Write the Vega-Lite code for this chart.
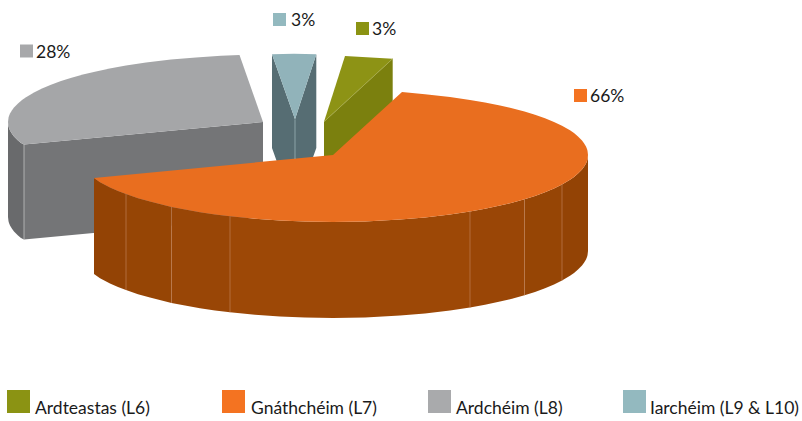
{
"$schema":"https://vega.github.io/schema/vega-lite/v6.json",
"width":802,"height":421,
"autosize":{"type":"fit","contains":"padding"},
"padding":0,
"background":"white",
"config":{"view":{"stroke":null}},
"datasets":{
"levels":[
{"rank":1,"level":"Ardteastas (L6)","share":0.03},
{"rank":2,"level":"Gnáthchéim (L7)","share":0.66},
{"rank":3,"level":"Ardchéim (L8)","share":0.28},
{"rank":4,"level":"Iarchéim (L9 & L10)","share":0.03}
],
"shapes":[
{"part":"grey left","seq":1,"x":8,"y":122},{"part":"grey left","seq":2,"x":8.5,"y":126.2},{"part":"grey left","seq":3,"x":9,"y":127.9},{"part":"grey left","seq":4,"x":10,"y":130.4},{"part":"grey left","seq":5,"x":12,"y":133.8},{"part":"grey left","seq":6,"x":14,"y":136.4},{"part":"grey left","seq":7,"x":18,"y":140.6},{"part":"grey left","seq":8,"x":21,"y":143},{"part":"grey left","seq":9,"x":24,"y":144.5},{"part":"grey left","seq":10,"x":24,"y":239.5},{"part":"grey left","seq":11,"x":21,"y":238.1},{"part":"grey left","seq":12,"x":18,"y":235.6},{"part":"grey left","seq":13,"x":14,"y":231.4},{"part":"grey left","seq":14,"x":12,"y":228.8},{"part":"grey left","seq":15,"x":10,"y":225.4},{"part":"grey left","seq":16,"x":9,"y":222.9},{"part":"grey left","seq":17,"x":8.5,"y":221.2},{"part":"grey left","seq":18,"x":8,"y":217},
{"part":"grey front","seq":1,"x":24,"y":144.5},{"part":"grey front","seq":2,"x":263,"y":122},{"part":"grey front","seq":3,"x":263,"y":217},{"part":"grey front","seq":4,"x":24,"y":239.5},
{"part":"grey top","seq":1,"x":239.5,"y":55},{"part":"grey top","seq":2,"x":263,"y":122},{"part":"grey top","seq":3,"x":24,"y":144.5},{"part":"grey top","seq":4,"x":21,"y":143},{"part":"grey top","seq":5,"x":18,"y":140.6},{"part":"grey top","seq":6,"x":14,"y":136.4},{"part":"grey top","seq":7,"x":12,"y":133.8},{"part":"grey top","seq":8,"x":10,"y":130.4},{"part":"grey top","seq":9,"x":9,"y":127.9},{"part":"grey top","seq":10,"x":8.5,"y":126.2},{"part":"grey top","seq":11,"x":8,"y":122},{"part":"grey top","seq":12,"x":8.5,"y":117.8},{"part":"grey top","seq":13,"x":9,"y":116.1},{"part":"grey top","seq":14,"x":10,"y":113.6},{"part":"grey top","seq":15,"x":12,"y":110.2},{"part":"grey top","seq":16,"x":14,"y":107.6},{"part":"grey top","seq":17,"x":18,"y":103.4},{"part":"grey top","seq":18,"x":22,"y":100.1},{"part":"grey top","seq":19,"x":26,"y":97.3},{"part":"grey top","seq":20,"x":34,"y":92.5},{"part":"grey top","seq":21,"x":42,"y":88.6},{"part":"grey top","seq":22,"x":51,"y":84.8},{"part":"grey top","seq":23,"x":61,"y":81.1},{"part":"grey top","seq":24,"x":71.5,"y":77.8},{"part":"grey top","seq":25,"x":84,"y":74.3},{"part":"grey top","seq":26,"x":96,"y":71.4},{"part":"grey top","seq":27,"x":111,"y":68.2},{"part":"grey top","seq":28,"x":126,"y":65.5},{"part":"grey top","seq":29,"x":146,"y":62.5},{"part":"grey top","seq":30,"x":171,"y":59.5},{"part":"grey top","seq":31,"x":196,"y":57.4},{"part":"grey top","seq":32,"x":221,"y":55.7},
{"part":"teal side","seq":1,"x":272,"y":54.3},{"part":"teal side","seq":2,"x":295,"y":119.3},{"part":"teal side","seq":3,"x":316.3,"y":54.3},{"part":"teal side","seq":4,"x":316.3,"y":148},{"part":"teal side","seq":5,"x":312,"y":160},{"part":"teal side","seq":6,"x":295,"y":165},{"part":"teal side","seq":7,"x":277,"y":162},{"part":"teal side","seq":8,"x":272,"y":148},
{"part":"teal top","seq":1,"x":272,"y":54.3},{"part":"teal top","seq":2,"x":294,"y":53.8},{"part":"teal top","seq":3,"x":316.3,"y":54.3},{"part":"teal top","seq":4,"x":295,"y":119.3},
{"part":"olive side","seq":1,"x":324,"y":121.7},{"part":"olive side","seq":2,"x":392.7,"y":58.7},{"part":"olive side","seq":3,"x":392.7,"y":120},{"part":"olive side","seq":4,"x":324,"y":170},
{"part":"olive top","seq":1,"x":345,"y":56},{"part":"olive top","seq":2,"x":392.7,"y":58.7},{"part":"olive top","seq":3,"x":324,"y":121.7},
{"part":"orange side 1","seq":1,"x":94,"y":178},{"part":"orange side 1","seq":2,"x":100,"y":182.2},{"part":"orange side 1","seq":3,"x":110,"y":187.5},{"part":"orange side 1","seq":4,"x":118,"y":191},{"part":"orange side 1","seq":5,"x":126,"y":194},{"part":"orange side 1","seq":6,"x":126,"y":290},{"part":"orange side 1","seq":7,"x":118,"y":287},{"part":"orange side 1","seq":8,"x":110,"y":283.5},{"part":"orange side 1","seq":9,"x":100,"y":278.2},{"part":"orange side 1","seq":10,"x":94,"y":274},
{"part":"orange side 2","seq":1,"x":126,"y":194},{"part":"orange side 2","seq":2,"x":138,"y":198.2},{"part":"orange side 2","seq":3,"x":150,"y":201.6},{"part":"orange side 2","seq":4,"x":171.5,"y":206.9},{"part":"orange side 2","seq":5,"x":171.5,"y":302.9},{"part":"orange side 2","seq":6,"x":150,"y":297.6},{"part":"orange side 2","seq":7,"x":138,"y":294.2},{"part":"orange side 2","seq":8,"x":126,"y":290},
{"part":"orange side 3","seq":1,"x":171.5,"y":206.9},{"part":"orange side 3","seq":2,"x":185,"y":209.6},{"part":"orange side 3","seq":3,"x":200,"y":212.2},{"part":"orange side 3","seq":4,"x":215,"y":214.4},{"part":"orange side 3","seq":5,"x":230,"y":216.3},{"part":"orange side 3","seq":6,"x":230,"y":312.3},{"part":"orange side 3","seq":7,"x":215,"y":310.4},{"part":"orange side 3","seq":8,"x":200,"y":308.2},{"part":"orange side 3","seq":9,"x":185,"y":305.6},{"part":"orange side 3","seq":10,"x":171.5,"y":302.9},
{"part":"orange side 4","seq":1,"x":230,"y":216.3},{"part":"orange side 4","seq":2,"x":255,"y":218.8},{"part":"orange side 4","seq":3,"x":280,"y":220.5},{"part":"orange side 4","seq":4,"x":305,"y":221.6},{"part":"orange side 4","seq":5,"x":333,"y":222},{"part":"orange side 4","seq":6,"x":365,"y":221.5},{"part":"orange side 4","seq":7,"x":400,"y":219.6},{"part":"orange side 4","seq":8,"x":425,"y":217.5},{"part":"orange side 4","seq":9,"x":450,"y":214.5},{"part":"orange side 4","seq":10,"x":470,"y":211.5},{"part":"orange side 4","seq":11,"x":470,"y":307.5},{"part":"orange side 4","seq":12,"x":450,"y":310.5},{"part":"orange side 4","seq":13,"x":425,"y":313.5},{"part":"orange side 4","seq":14,"x":400,"y":315.6},{"part":"orange side 4","seq":15,"x":365,"y":317.5},{"part":"orange side 4","seq":16,"x":333,"y":318},{"part":"orange side 4","seq":17,"x":305,"y":317.6},{"part":"orange side 4","seq":18,"x":280,"y":316.5},{"part":"orange side 4","seq":19,"x":255,"y":314.8},{"part":"orange side 4","seq":20,"x":230,"y":312.3},
{"part":"orange side 5","seq":1,"x":470,"y":211.5},{"part":"orange side 5","seq":2,"x":485,"y":208.8},{"part":"orange side 5","seq":3,"x":500,"y":205.6},{"part":"orange side 5","seq":4,"x":512,"y":202.7},{"part":"orange side 5","seq":5,"x":524.5,"y":199.2},{"part":"orange side 5","seq":6,"x":524.5,"y":295.2},{"part":"orange side 5","seq":7,"x":512,"y":298.7},{"part":"orange side 5","seq":8,"x":500,"y":301.6},{"part":"orange side 5","seq":9,"x":485,"y":304.8},{"part":"orange side 5","seq":10,"x":470,"y":307.5},
{"part":"orange side 6","seq":1,"x":524.5,"y":199.2},{"part":"orange side 6","seq":2,"x":535,"y":195.9},{"part":"orange side 6","seq":3,"x":545,"y":192.2},{"part":"orange side 6","seq":4,"x":554,"y":188.4},{"part":"orange side 6","seq":5,"x":562,"y":184.5},{"part":"orange side 6","seq":6,"x":562,"y":280.5},{"part":"orange side 6","seq":7,"x":554,"y":284.4},{"part":"orange side 6","seq":8,"x":545,"y":288.2},{"part":"orange side 6","seq":9,"x":535,"y":291.9},{"part":"orange side 6","seq":10,"x":524.5,"y":295.2},
{"part":"orange side 7","seq":1,"x":562,"y":184.5},{"part":"orange side 7","seq":2,"x":570,"y":179.7},{"part":"orange side 7","seq":3,"x":574,"y":176.9},{"part":"orange side 7","seq":4,"x":578,"y":173.6},{"part":"orange side 7","seq":5,"x":582,"y":169.4},{"part":"orange side 7","seq":6,"x":584,"y":166.8},{"part":"orange side 7","seq":7,"x":586,"y":163.4},{"part":"orange side 7","seq":8,"x":587,"y":160.9},{"part":"orange side 7","seq":9,"x":587.5,"y":159.2},{"part":"orange side 7","seq":10,"x":588,"y":155},{"part":"orange side 7","seq":11,"x":588,"y":251},{"part":"orange side 7","seq":12,"x":587.5,"y":255.2},{"part":"orange side 7","seq":13,"x":587,"y":256.9},{"part":"orange side 7","seq":14,"x":586,"y":259.4},{"part":"orange side 7","seq":15,"x":584,"y":262.8},{"part":"orange side 7","seq":16,"x":582,"y":265.4},{"part":"orange side 7","seq":17,"x":578,"y":269.6},{"part":"orange side 7","seq":18,"x":574,"y":272.9},{"part":"orange side 7","seq":19,"x":570,"y":275.7},{"part":"orange side 7","seq":20,"x":562,"y":280.5},
{"part":"orange top","seq":1,"x":333,"y":155},{"part":"orange top","seq":2,"x":402,"y":92},{"part":"orange top","seq":3,"x":425,"y":94.3},{"part":"orange top","seq":4,"x":450,"y":97},{"part":"orange top","seq":5,"x":470,"y":100},{"part":"orange top","seq":6,"x":485,"y":102.5},{"part":"orange top","seq":7,"x":500,"y":105.5},{"part":"orange top","seq":8,"x":512,"y":108.2},{"part":"orange top","seq":9,"x":524.5,"y":111.5},{"part":"orange top","seq":10,"x":535,"y":114.7},{"part":"orange top","seq":11,"x":545,"y":118.2},{"part":"orange top","seq":12,"x":554,"y":122},{"part":"orange top","seq":13,"x":562,"y":125.7},{"part":"orange top","seq":14,"x":570,"y":130.3},{"part":"orange top","seq":15,"x":574,"y":133.1},{"part":"orange top","seq":16,"x":578,"y":136.4},{"part":"orange top","seq":17,"x":582,"y":140.6},{"part":"orange top","seq":18,"x":584,"y":143.2},{"part":"orange top","seq":19,"x":586,"y":146.6},{"part":"orange top","seq":20,"x":587,"y":149.1},{"part":"orange top","seq":21,"x":587.5,"y":150.8},{"part":"orange top","seq":22,"x":588,"y":155},{"part":"orange top","seq":23,"x":587.5,"y":159.2},{"part":"orange top","seq":24,"x":587,"y":160.9},{"part":"orange top","seq":25,"x":586,"y":163.4},{"part":"orange top","seq":26,"x":584,"y":166.8},{"part":"orange top","seq":27,"x":582,"y":169.4},{"part":"orange top","seq":28,"x":578,"y":173.6},{"part":"orange top","seq":29,"x":574,"y":176.9},{"part":"orange top","seq":30,"x":570,"y":179.7},{"part":"orange top","seq":31,"x":562,"y":184.5},{"part":"orange top","seq":32,"x":554,"y":188.4},{"part":"orange top","seq":33,"x":545,"y":192.2},{"part":"orange top","seq":34,"x":535,"y":195.9},{"part":"orange top","seq":35,"x":524.5,"y":199.2},{"part":"orange top","seq":36,"x":512,"y":202.7},{"part":"orange top","seq":37,"x":500,"y":205.6},{"part":"orange top","seq":38,"x":485,"y":208.8},{"part":"orange top","seq":39,"x":470,"y":211.5},{"part":"orange top","seq":40,"x":450,"y":214.5},{"part":"orange top","seq":41,"x":425,"y":217.5},{"part":"orange top","seq":42,"x":400,"y":219.6},{"part":"orange top","seq":43,"x":365,"y":221.5},{"part":"orange top","seq":44,"x":333,"y":222},{"part":"orange top","seq":45,"x":305,"y":221.6},{"part":"orange top","seq":46,"x":280,"y":220.5},{"part":"orange top","seq":47,"x":255,"y":218.8},{"part":"orange top","seq":48,"x":230,"y":216.3},{"part":"orange top","seq":49,"x":215,"y":214.4},{"part":"orange top","seq":50,"x":200,"y":212.2},{"part":"orange top","seq":51,"x":185,"y":209.6},{"part":"orange top","seq":52,"x":171.5,"y":206.9},{"part":"orange top","seq":53,"x":150,"y":201.6},{"part":"orange top","seq":54,"x":138,"y":198.2},{"part":"orange top","seq":55,"x":126,"y":194},{"part":"orange top","seq":56,"x":118,"y":191},{"part":"orange top","seq":57,"x":110,"y":187.5},{"part":"orange top","seq":58,"x":100,"y":182.2},{"part":"orange top","seq":59,"x":94,"y":178}
],
"edges":[
{"edge":"g","slice":"grey","seq":1,"x":24,"y":144.5},{"edge":"g","slice":"grey","seq":2,"x":24,"y":239.5},
{"edge":"t","slice":"teal","seq":1,"x":295,"y":119.3},{"edge":"t","slice":"teal","seq":2,"x":295,"y":159},
{"edge":"o","slice":"olive","seq":1,"x":324,"y":121.7},{"edge":"o","slice":"olive","seq":2,"x":392.7,"y":58.7},
{"edge":"r1","slice":"orange","seq":1,"x":126,"y":194},{"edge":"r1","slice":"orange","seq":2,"x":126,"y":290},
{"edge":"r2","slice":"orange","seq":1,"x":171.5,"y":206.9},{"edge":"r2","slice":"orange","seq":2,"x":171.5,"y":302.9},
{"edge":"r3","slice":"orange","seq":1,"x":230,"y":216.3},{"edge":"r3","slice":"orange","seq":2,"x":230,"y":312.3},
{"edge":"r4","slice":"orange","seq":1,"x":470,"y":211.5},{"edge":"r4","slice":"orange","seq":2,"x":470,"y":307.5},
{"edge":"r5","slice":"orange","seq":1,"x":524.5,"y":199.2},{"edge":"r5","slice":"orange","seq":2,"x":524.5,"y":295.2},
{"edge":"r6","slice":"orange","seq":1,"x":562,"y":184.5},{"edge":"r6","slice":"orange","seq":2,"x":562,"y":280.5}
]
},
"resolve":{"scale":{"x":"independent","y":"independent","color":"independent","fill":"independent","stroke":"independent"}},
"layer":[
{"data":{"name":"shapes"},
 "mark":{"type":"line","strokeWidth":0,"clip":false},
 "encoding":{
  "x":{"field":"x","type":"quantitative","axis":null,"scale":{"domain":[0,802],"nice":false,"zero":false}},
  "y":{"field":"y","type":"quantitative","axis":null,"scale":{"domain":[421,0],"nice":false,"zero":false}},
  "order":{"field":"seq"},
  "detail":{"field":"part"},
  "fill":{"field":"part","type":"nominal","legend":null,"scale":{
   "domain":["grey left","grey front","grey top","teal side","teal top","olive side","olive top","orange side 1","orange side 2","orange side 3","orange side 4","orange side 5","orange side 6","orange side 7","orange top"],
   "range":["#696a6c","#747577","#a5a6a8","#566d73","#91b3ba","#7b800e","#8d9315","#934305","#964505","#994606","#9d4806","#9a4606","#964505","#934305","#e96e1f"]}}
 }},
{"data":{"name":"edges"},
 "mark":{"type":"line","strokeWidth":0.75},
 "encoding":{
  "x":{"field":"x","type":"quantitative","axis":null,"scale":{"domain":[0,802],"nice":false,"zero":false}},
  "y":{"field":"y","type":"quantitative","axis":null,"scale":{"domain":[421,0],"nice":false,"zero":false}},
  "order":{"field":"seq"},
  "detail":{"field":"edge"},
  "stroke":{"field":"slice","type":"nominal","legend":null,"scale":{"domain":["grey","teal","olive","orange"],"range":["#c4c5c6","#9db5ba","#a5aa4a","#bb7a4e"]}}
 }},
{"data":{"name":"levels"},
 "mark":{"type":"square","size":169,"opacity":1},
 "encoding":{
  "x":{"field":"rank","type":"quantitative","axis":null,"scale":{"domain":[1,2,3,4],"range":[362.5,580.5,26.5,279.5],"zero":false,"nice":false}},
  "y":{"field":"rank","type":"quantitative","axis":null,"scale":{"domain":[1,2,3,4],"range":[28.5,95.5,51,19.5],"zero":false,"nice":false}},
  "color":{"field":"level","type":"nominal","legend":null,"scale":{"domain":["Ardteastas (L6)","Gnáthchéim (L7)","Ardchéim (L8)","Iarchéim (L9 & L10)"],"range":["#8b9313","#f47321","#a7a8aa","#93b9bf"]}}
 }},
{"data":{"name":"levels"},
 "mark":{"type":"text","align":"left","baseline":"alphabetic","font":"Lato","fontSize":17.5,"color":"#1a1a1a"},
 "encoding":{
  "x":{"field":"rank","type":"quantitative","axis":null,"scale":{"domain":[1,2,3,4],"range":[372,590,36,291],"zero":false,"nice":false}},
  "y":{"field":"rank","type":"quantitative","axis":null,"scale":{"domain":[1,2,3,4],"range":[34.5,101.5,57.5,25.5],"zero":false,"nice":false}},
  "text":{"field":"share","type":"quantitative","format":".0%"}
 }},
{"data":{"name":"levels"},
 "mark":{"type":"square","size":529,"opacity":1},
 "encoding":{
  "x":{"field":"rank","type":"quantitative","axis":null,"scale":{"domain":[1,2,3,4],"range":[18.5,233.5,439.5,634.5],"zero":false,"nice":false}},
  "y":{"datum":401.5,"type":"quantitative","axis":null,"scale":{"domain":[421,0],"nice":false,"zero":false}},
  "color":{"field":"level","type":"nominal","legend":null,"scale":{"domain":["Ardteastas (L6)","Gnáthchéim (L7)","Ardchéim (L8)","Iarchéim (L9 & L10)"],"range":["#8b9313","#f47321","#a9aaac","#93b9bf"]}}
 }},
{"data":{"name":"levels"},
 "mark":{"type":"text","align":"left","baseline":"alphabetic","font":"Lato","fontSize":17.5,"color":"#1a1a1a"},
 "encoding":{
  "x":{"field":"rank","type":"quantitative","axis":null,"scale":{"domain":[1,2,3,4],"range":[35,251,456,650],"zero":false,"nice":false}},
  "y":{"datum":413.5,"type":"quantitative","axis":null,"scale":{"domain":[421,0],"nice":false,"zero":false}},
  "text":{"field":"level","type":"nominal"}
 }}
]
}
